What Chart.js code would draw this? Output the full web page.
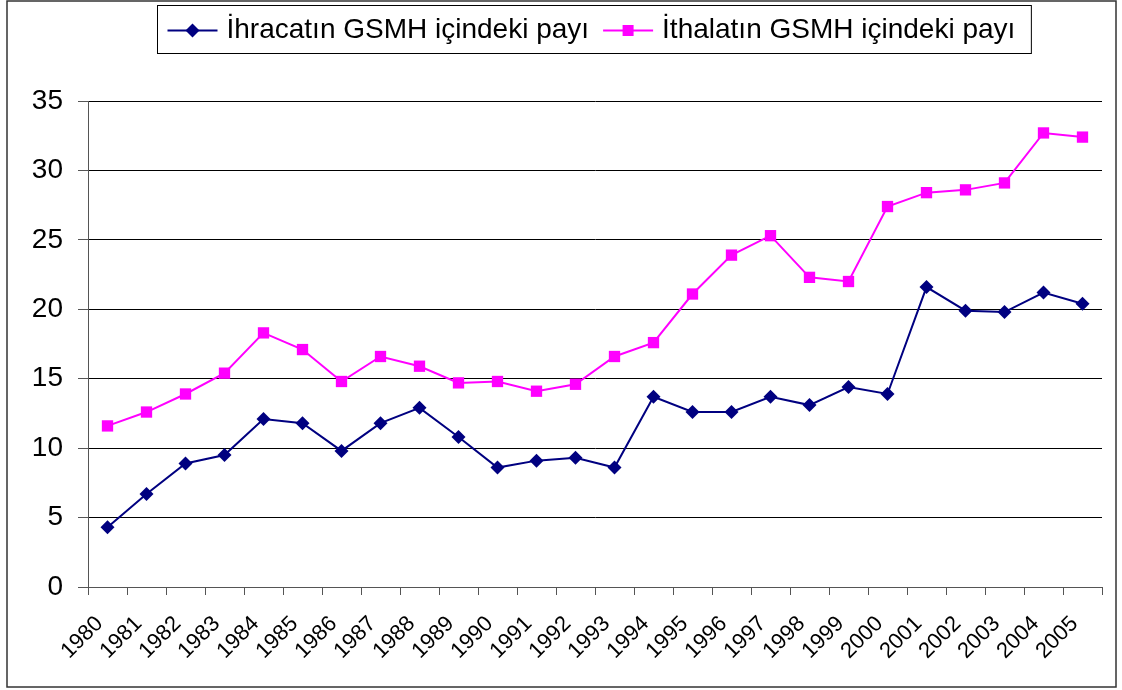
<!DOCTYPE html>
<html>
<head>
<meta charset="utf-8">
<script src="https://cdn.jsdelivr.net/npm/chart.js@4.4.1/dist/chart.umd.min.js"></script>
<style>
  body { margin: 0; background: #fff; }
  #wrap { width: 1122px; height: 690px; }
</style>
</head>
<body>
<div id="wrap"><canvas id="mainChart" width="1122" height="690"></canvas></div>
<script>
var years = ['1980','1981','1982','1983','1984','1985','1986','1987','1988','1989','1990','1991','1992',
  '1993','1994','1995','1996','1997','1998','1999','2000','2001','2002','2003','2004','2005'];
var ihracat = [4.3, 6.7, 8.9, 9.5, 12.1, 11.8, 9.8, 11.8, 12.9, 10.8, 8.6, 9.1, 9.3,
  8.6, 13.7, 12.6, 12.6, 13.7, 13.1, 14.4, 13.9, 21.6, 19.9, 19.8, 21.2, 20.4];
var ithalat = [11.6, 12.6, 13.9, 15.4, 18.3, 17.1, 14.8, 16.6, 15.9, 14.7, 14.8, 14.1, 14.6,
  16.6, 17.6, 21.1, 23.9, 25.3, 22.3, 22.0, 27.4, 28.4, 28.6, 29.1, 32.7, 32.4];
var seriesNames = ['İhracatın GSMH içindeki payı', 'İthalatın GSMH içindeki payı'];
var yTicks = [0, 5, 10, 15, 20, 25, 30, 35];

var navy = '#000080';
var magenta = '#FF00FF';
var fontFam = '"Liberation Sans", Arial, sans-serif';

// frame + custom legend (line sample with marker, like the original)
var framePlugin = {
  id: 'frame',
  beforeDraw: function(chart) {
    var ctx = chart.ctx;
    ctx.save();
    ctx.fillStyle = '#fff';
    ctx.fillRect(0, 0, chart.width, chart.height);
    ctx.strokeStyle = '#333';
    ctx.lineWidth = 1.5;
    ctx.strokeRect(7, 1, 1109, 686);
    ctx.restore();
  },
  afterDraw: function(chart) {
    var ctx = chart.ctx;
    ctx.save();
    ctx.font = '28px ' + fontFam;
    var w1 = ctx.measureText(seriesNames[0]).width;
    var w2 = ctx.measureText(seriesNames[1]).width;
    var lineLen = 50, gap = 9, itemGap = 14, pad = 10;
    var total = pad + lineLen + gap + w1 + itemGap + lineLen + gap + w2 + pad + 6;
    var left = Math.round(594 - total / 2) + 0.5;
    var top = 5.5, h = 48;
    ctx.strokeStyle = '#000';
    ctx.lineWidth = 1;
    ctx.strokeRect(left, top, total, h);
    var cy = top + h / 2 + 1;
    var x = left + pad;
    var items = [
      {color: navy, shape: 'diamond', text: seriesNames[0], w: w1},
      {color: magenta, shape: 'square', text: seriesNames[1], w: w2}
    ];
    items.forEach(function(it) {
      ctx.strokeStyle = it.color;
      ctx.lineWidth = 2;
      ctx.beginPath();
      ctx.moveTo(x, cy);
      ctx.lineTo(x + lineLen, cy);
      ctx.stroke();
      var mx = x + lineLen / 2;
      ctx.fillStyle = it.color;
      ctx.beginPath();
      if (it.shape === 'diamond') {
        ctx.moveTo(mx - 7, cy); ctx.lineTo(mx, cy - 7);
        ctx.lineTo(mx + 7, cy); ctx.lineTo(mx, cy + 7);
      } else {
        ctx.rect(mx - 5.5, cy - 5.5, 11, 11);
      }
      ctx.closePath();
      ctx.fill();
      x += lineLen + gap;
      ctx.fillStyle = '#000';
      ctx.textBaseline = 'middle';
      ctx.textAlign = 'left';
      ctx.fillText(it.text, x, cy);
      x += it.w + itemGap;
    });
    ctx.restore();
  }
};

var chart = new Chart(document.getElementById('mainChart'), {
  type: 'line',
  data: {
    labels: years,
    datasets: [
      {
        label: seriesNames[0],
        data: ihracat,
        borderColor: navy,
        backgroundColor: navy,
        borderWidth: 2,
        pointStyle: 'rectRot',
        pointRadius: 7,
        pointBorderWidth: 0,
        lineTension: 0,
        fill: false
      },
      {
        label: seriesNames[1],
        data: ithalat,
        borderColor: magenta,
        backgroundColor: magenta,
        borderWidth: 2,
        pointStyle: 'rect',
        pointRadius: 8,
        pointBorderWidth: 0,
        lineTension: 0,
        fill: false
      }
    ]
  },
  options: {
    responsive: false,
    animation: false,
    layout: { padding: { left: 0, right: 20, top: 101, bottom: 0 } },
    plugins: {
      legend: { display: false },
      tooltip: { enabled: false }
    },
    scales: {
      x: {
        offset: true,
        grid: {
          offset: true,
          drawOnChartArea: false,
          drawTicks: true,
          tickLength: 8,
          tickColor: '#555'
        },
        border: { color: '#555', width: 1 },
        ticks: {
          maxRotation: 45,
          minRotation: 45,
          autoSkip: false,
          labelOffset: -8,
          padding: 16,
          color: '#000',
          font: { family: fontFam, size: 22 }
        },
        afterFit: function(scale) { scale.height = 103; }
      },
      y: {
        min: 0,
        max: 35,
        afterBuildTicks: function(scale) {
          scale.ticks = yTicks.map(function(v) { return {value: v}; });
        },
        grid: {
          color: '#000',
          lineWidth: 1,
          tickLength: 10,
          tickColor: '#555'
        },
        border: { color: '#555', width: 1 },
        ticks: {
          padding: 15,
          color: '#000',
          font: { family: fontFam, size: 28 }
        },
        afterFit: function(scale) { scale.width = 88; }
      }
    }
  },
  plugins: [framePlugin]
});
</script>
</body>
</html>
